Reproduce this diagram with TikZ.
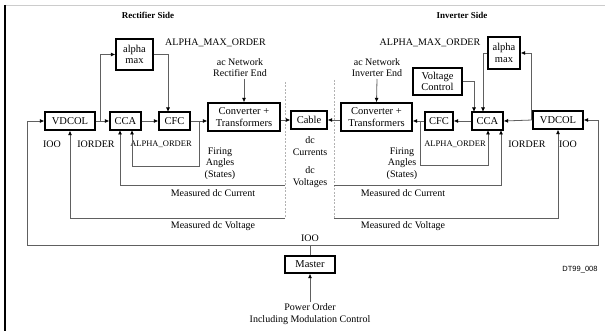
\documentclass[tikz,border=0pt]{standalone}
\usepackage{fontspec}
\setmainfont{Liberation Serif}
\newfontfamily\dtfont{Liberation Sans}
\usetikzlibrary{arrows.meta}
\begin{document}
\begin{tikzpicture}[x=1pt,y=-1pt,
  blk/.style={draw=black,line width=1.3pt,fill=white,inner sep=0pt,align=center,font=\fontsize{10.5}{11.5}\selectfont},
  conn/.style={draw=gray!75!black,line width=0.8pt},
  arr/.style={conn,-{Latex[length=4.5pt,width=4pt,black]}},
  lbl/.style={inner sep=0pt,align=center,font=\fontsize{10}{11.5}\selectfont},
  small/.style={inner sep=0pt,font=\fontsize{8.5}{10}\selectfont},
  divider/.style={draw=gray!60,line width=0.8pt,dash pattern=on 2pt off 1.5pt}]
\useasboundingbox (0,0) rectangle (605,331);
% frame
\draw[gray!40,line width=0.8pt] (5,5) -- (605,5);
\draw[black,line width=1.2pt] (5,5) -- (5,331);
% headings
\node[lbl,font=\fontsize{9}{11}\bfseries] (hrect) at (148,15) {Rectifier Side};
\node[lbl,font=\fontsize{9}{11}\bfseries] (hinv) at (462,15) {Inverter Side};
% rectifier blocks
\node[blk,minimum width=50pt,minimum height=18pt] (vd1) at (70,121) {VDCOL};
\node[blk,minimum width=31pt,minimum height=18pt] (cca1) at (125.5,121) {CCA};
\node[blk,minimum width=31pt,minimum height=18pt] (cfc1) at (174.5,121) {CFC};
\node[blk,minimum width=72pt,minimum height=28pt] (conv1) at (244,117) {Converter +\\Transformers};
\node[blk,minimum width=37pt,minimum height=31pt] (am1) at (134.5,54.5) {alpha\\max};
\node[blk,minimum width=36pt,minimum height=18pt] (cable) at (309,120) {Cable};
% inverter blocks
\node[blk,minimum width=71pt,minimum height=28pt] (conv2) at (376.5,117) {Converter +\\Transformers};
\node[blk,minimum width=28pt,minimum height=18pt] (cfc2) at (439,121) {CFC};
\node[blk,minimum width=31pt,minimum height=18pt] (cca2) at (487.5,121) {CCA};
\node[blk,minimum width=50pt,minimum height=18pt] (vd2) at (558,120) {VDCOL};
\node[blk,minimum width=32pt,minimum height=32pt] (am2) at (504,53) {alpha\\max};
\node[blk,minimum width=49pt,minimum height=27pt] (vc) at (437.5,81.5) {Voltage\\Control};
\node[blk,minimum width=50pt,minimum height=17pt] (master) at (310,264.5) {Master};
% labels
\node[lbl] (amo1) at (215.5,43) {ALPHA\_MAX\_ORDER};
\node[lbl] (amo2) at (430,43) {ALPHA\_MAX\_ORDER};
\node[lbl] (acn1) at (240,67.5) {ac Network\\Rectifier End};
\node[lbl] (acn2) at (377,67.5) {ac Network\\Inverter End};
\node[lbl] (ioo1) at (52,144) {IOO};
\node[lbl] (iord1) at (96,144) {IORDER};
\node[small] (ao1) at (161,144) {ALPHA\_ORDER};
\node[lbl] (fa1) at (220,163.5) {Firing\\Angles\\(States)};
\node[lbl] (dcc) at (310,146) {dc\\Currents};
\node[lbl] (dcv) at (310,177) {dc\\Voltages};
\node[lbl] (mc1) at (213,193) {Measured dc Current};
\node[lbl] (mv1) at (213,226) {Measured dc Voltage};
\node[small] (ao2) at (455,144) {ALPHA\_ORDER};
\node[lbl] (iord2) at (527,144) {IORDER};
\node[lbl] (ioo2) at (568,144) {IOO};
\node[lbl] (fa2) at (402,163.5) {Firing\\Angles\\(States)};
\node[lbl] (mc2) at (403,193) {Measured dc Current};
\node[lbl] (mv2) at (403,226) {Measured dc Voltage};
\node[lbl] (ioo3) at (310,238) {IOO};
\node[lbl] (po) at (310,314) {Power Order\\Including Modulation Control};
\node[inner sep=0pt,font=\dtfont\fontsize{7.5}{9}\selectfont] (dt) at (580,270) {DT99\_008};
% dividers
\coordinate (d1t) at (285,82); \coordinate (d1b) at (285,218);
\coordinate (d2t) at (334,80); \coordinate (d2b) at (334,218);
\draw[divider] (d1t) -- (d1b);
\draw[divider] (d2t) -- (d2b);
% coordinates
\coordinate (jM) at (310,245);
\coordinate (bl) at (27,245);
\coordinate (br) at (598,245);
\coordinate (j1) at (100,121);
\coordinate (j2) at (199,121);
\coordinate (j3) at (420,121);
\coordinate (j4) at (531,120);
\coordinate (acs1) at (244,79);
\coordinate (acs2) at (377,79);
\coordinate (pos) at (310,302);
% rectifier connectors
\draw[conn] (master.north) -- (jM);
\draw[arr] (jM) -- (bl) |- (vd1.west);
\draw[arr] (jM) -- (br) |- (vd2.east);
\draw[arr] (vd1.east) -- (cca1.west);
\draw[arr] (j1) |- (am1.west);
\draw[arr] (am1.east) -| (168,112);
\draw[arr] (cca1.east) -- (cfc1.west);
\draw[arr] (cfc1.east) -- (conv1.west |- cfc1.east);
\draw[arr] (j2) -- (199,166) -| (132,130);
\draw[arr] (conv1.east |- cable.west) -- (cable.west);
\draw[arr] (acs1) -- (conv1.north);
\draw[arr] (d1t |- 0,185) -| (120,130);
\draw[arr] (d1b) -| (vd1.south);
% inverter connectors
\draw[arr] (conv2.west |- cable.east) -- (cable.east);
\draw[arr] (cfc2.west) -- (conv2.east |- cfc2.west);
\draw[arr] (cca2.west) -- (cfc2.east);
\draw[arr] (vd2.west) -- (cca2.east);
\draw[arr] (j4) |- (am2.east);
\draw[arr] (am2.west) -| (483,112);
\draw[arr] (vc.east) -| (474,112);
\draw[arr] (j3) -- (420,165) -| (488,130);
\draw[arr] (d2t |- 0,185) -| (501,130);
\draw[arr] (d2b) -| (vd2.south);
\draw[arr] (acs2) -- (conv2.north);
\draw[arr] (pos) -- (master.south);
\end{tikzpicture}
\end{document}
